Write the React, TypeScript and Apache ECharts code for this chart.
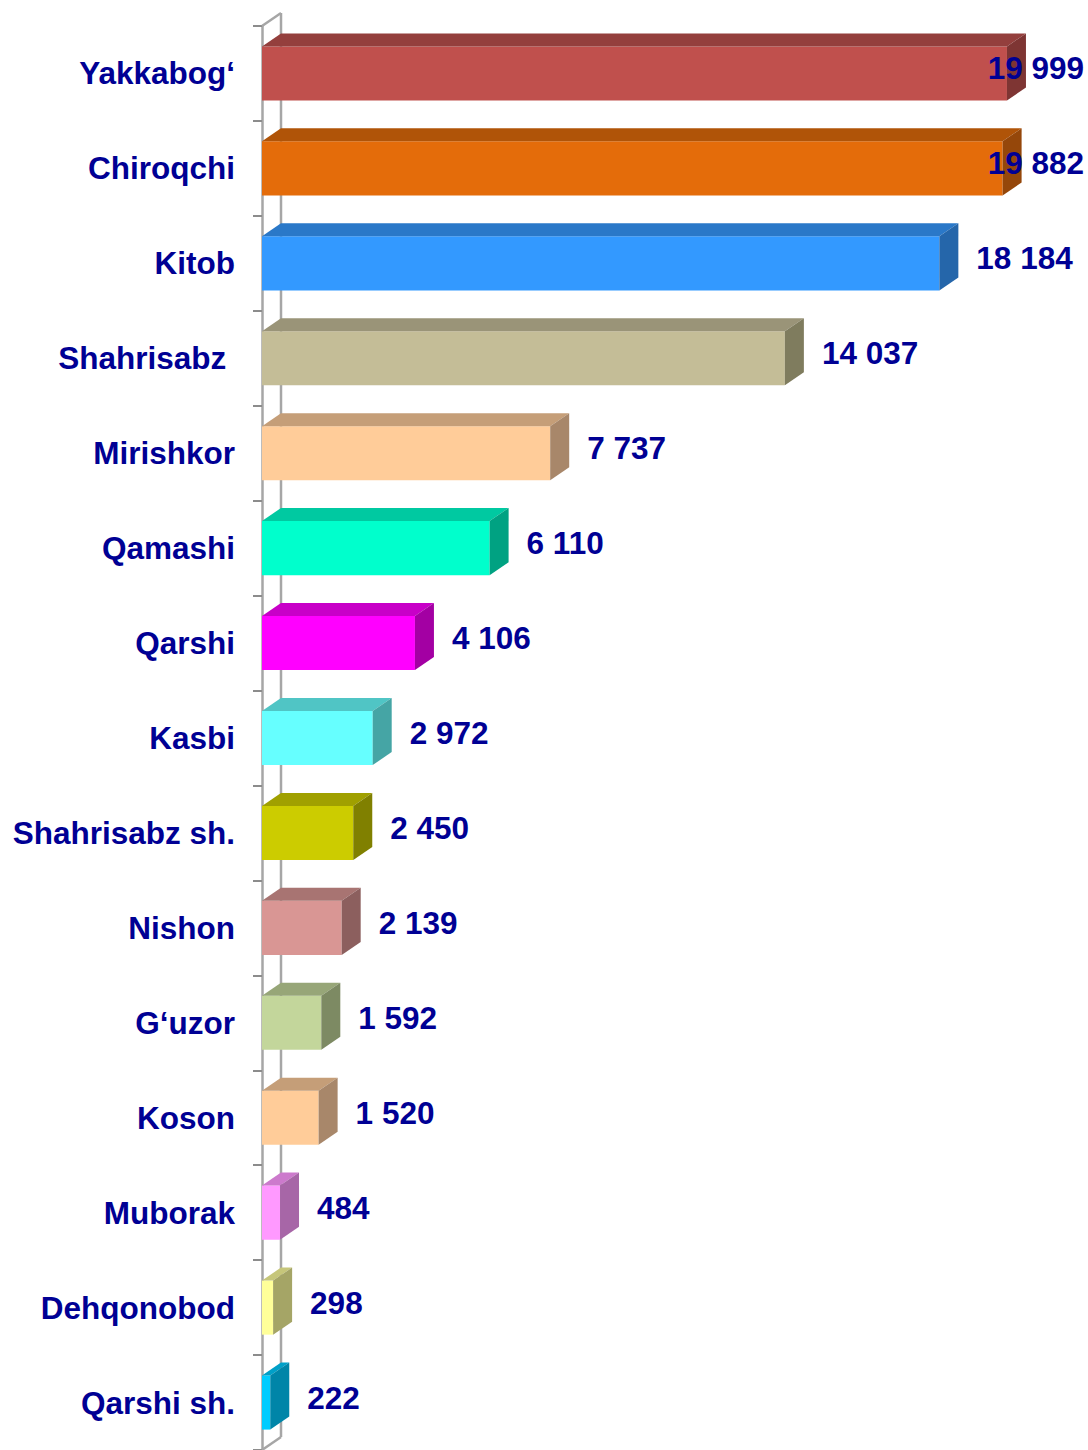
import React, { useEffect, useRef } from "react";
import * as echarts from "echarts";

const categories = [
  "Yakkabog‘",
  "Chiroqchi",
  "Kitob",
  "Shahrisabz\u00a0",
  "Mirishkor",
  "Qamashi",
  "Qarshi",
  "Kasbi",
  "Shahrisabz sh.",
  "Nishon",
  "G‘uzor",
  "Koson",
  "Muborak",
  "Dehqonobod",
  "Qarshi sh.",
];

const values = [19999, 19882, 18184, 14037, 7737, 6110, 4106, 2972, 2450, 2139, 1592, 1520, 484, 298, 222];

const frontColors = ["#C0504D", "#E46C0A", "#3399FF", "#C4BD97", "#FFCC99", "#00FFCC", "#FF00FF", "#66FFFF", "#CCCC00", "#D99694", "#C3D69B", "#FFCC99", "#FF99FF", "#FFFF99", "#00CCFF"];
const topColors = ["#943F3D", "#B05408", "#2A78C8", "#9A9478", "#C59E78", "#00C9A1", "#C800C8", "#50C5C5", "#A0A000", "#A87472", "#97A678", "#C59E78", "#CC7ACC", "#C6C67A", "#00A0C8"];
const sideColors = ["#7E3533", "#95470A", "#2566AA", "#7F7C5E", "#A8876A", "#00A282", "#A300A3", "#45A5A5", "#808000", "#8C5F5E", "#7D8A63", "#A8876A", "#A766A7", "#A5A566", "#0085A8"];

const LABEL_COLOR = "#000094";
const FONT = "'Liberation Sans', Arial, Helvetica, sans-serif";
const FONT_SIZE = 31.5;
const DX = 19;
const DY = 13;
const WALL = "#A6A6A6";

function fmt(v: number): string {
  return String(v).replace(/\B(?=(\d{3})+(?!\d))/g, " ");
}

export default function App() {
  const ref = useRef<HTMLDivElement>(null);
  useEffect(() => {
    document.body.style.margin = "0";
    if (!ref.current) return;
    const chart = echarts.init(ref.current, null, { renderer: "svg" });
    const n = categories.length;
    chart.setOption({
      animation: false,
      backgroundColor: "#FFFFFF",
      grid: { left: 262, top: 26, width: 745, height: 1428, containLabel: false },
      xAxis: {
        type: "value",
        min: 0,
        max: 20000,
        show: false,
      },
      yAxis: {
        type: "category",
        data: categories,
        inverse: true,
        axisLine: { show: true, lineStyle: { color: WALL, width: 2.5 } },
        axisTick: { show: true, length: 9, lineStyle: { color: "#8C8C8C", width: 2 } },
        axisLabel: {
          margin: 27,
          color: LABEL_COLOR,
          fontSize: FONT_SIZE,
          fontWeight: "bold",
          fontFamily: FONT,
        },
        splitLine: { show: false },
      },
      series: [
        {
          type: "custom",
          z: 1,
          clip: false,
          data: [[0, 0]],
          encode: { x: 0, y: 1 },
          silent: true,
          renderItem: (params: any, api: any) => {
            const band = api.size([0, 1])[1];
            const p0 = api.coord([0, 0]);
            const pN = api.coord([0, n - 1]);
            const x0 = p0[0];
            const top = p0[1] - band / 2;
            const bot = pN[1] + band / 2;
            const ls = { stroke: WALL, lineWidth: 2.5, fill: null };
            return {
              type: "group",
              children: [
                { type: "line", shape: { x1: x0 + DX, y1: top - DY, x2: x0 + DX, y2: bot - DY }, style: ls },
                { type: "line", shape: { x1: x0, y1: top, x2: x0 + DX, y2: top - DY }, style: ls },
                { type: "line", shape: { x1: x0, y1: bot, x2: x0 + DX, y2: bot - DY }, style: ls },
              ],
            };
          },
        },
        {
          type: "custom",
          z: 2,
          clip: false,
          data: values.map((v, i) => [v, i]),
          encode: { x: 0, y: 1 },
          renderItem: (params: any, api: any) => {
            const v = api.value(0);
            const i = api.value(1);
            const p1 = api.coord([v, i]);
            const p0 = api.coord([0, i]);
            const band = api.size([0, 1])[1];
            const h = band * 0.57;
            const x0 = p0[0];
            const x1 = p1[0];
            const yc = p1[1];
            const yT = yc - h / 2;
            const yB = yc + h / 2;
            const W = api.getWidth();
            let lx = x1 + 37;
            let align = "left";
            if (lx + 100 > W) {
              lx = W - 4;
              align = "right";
            }
            return {
              type: "group",
              children: [
                {
                  type: "rect",
                  shape: { x: x0, y: yT, width: x1 - x0, height: h },
                  style: { fill: frontColors[i] },
                },
                {
                  type: "polygon",
                  shape: { points: [[x0, yT], [x1, yT], [x1 + DX, yT - DY], [x0 + DX, yT - DY]] },
                  style: { fill: topColors[i] },
                },
                {
                  type: "polygon",
                  shape: { points: [[x1, yT], [x1 + DX, yT - DY], [x1 + DX, yB - DY], [x1, yB]] },
                  style: { fill: sideColors[i] },
                },
                {
                  type: "text",
                  z2: 10,
                  style: {
                    text: fmt(values[i]),
                    x: lx,
                    y: yc - 5,
                    align: align,
                    verticalAlign: "middle",
                    fill: LABEL_COLOR,
                    fontSize: FONT_SIZE,
                    fontWeight: "bold",
                    fontFamily: FONT,
                  },
                },
              ],
            };
          },
        },
      ],
    });
    return () => chart.dispose();
  }, []);
  return <div ref={ref} style={{ width: 1088, height: 1450 }} />;
}
